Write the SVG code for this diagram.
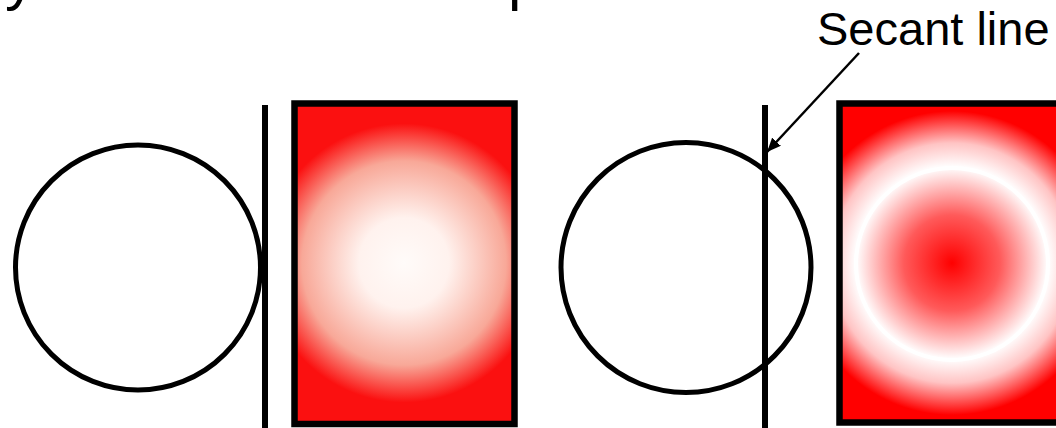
<svg xmlns="http://www.w3.org/2000/svg" width="1056" height="428" viewBox="0 0 1056 428">
  <style>
    .outline { fill: none; stroke: #000; stroke-width: 5; }
    .bar { stroke: #000; stroke-width: 6; }
    .frame { stroke: #000; stroke-width: 6.5; }
    .label { font-family: "Liberation Sans", Arial, sans-serif; font-size: 47px; fill: #000; }
    .title { font-family: "Liberation Sans", Arial, sans-serif; font-size: 60px; fill: #000; }
    .arrow { stroke: #000; stroke-width: 2.5; fill: none; }
  </style>
  <defs>
    <radialGradient id="gWhiteCenter" gradientUnits="userSpaceOnUse" cx="404" cy="263" r="150">
      <stop offset="0" stop-color="#fffbf9"/>
      <stop offset="0.3" stop-color="#fff2ee"/>
      <stop offset="0.68" stop-color="#f8a898"/>
      <stop offset="0.93" stop-color="#fb1010"/>
      <stop offset="1" stop-color="#fb1010"/>
    </radialGradient>
    <radialGradient id="gRedCenter" gradientUnits="userSpaceOnUse" cx="952" cy="263" r="160">
      <stop offset="0" stop-color="#ff0000"/>
      <stop offset="0.3" stop-color="#ff5a5a"/>
      <stop offset="0.6" stop-color="#ffffff"/>
      <stop offset="0.75" stop-color="#ffc4c4"/>
      <stop offset="0.95" stop-color="#ff0000"/>
      <stop offset="1" stop-color="#ff0000"/>
    </radialGradient>
    <marker id="head" markerUnits="userSpaceOnUse" markerWidth="16" markerHeight="12" refX="14" refY="6" orient="auto">
      <path d="M0,0 L14,6 L0,12 z" fill="#000"/>
    </marker>
  </defs>

  <g id="title-fragment">
    <text class="title" x="5" y="-1">y</text>
    <text class="title" x="508" y="-1">p</text>
  </g>

  <g id="left-circle">
    <circle class="outline" cx="138" cy="267.5" r="122.5"/>
  </g>
  <g id="left-line">
    <line class="bar" x1="265" y1="105" x2="265" y2="430"/>
  </g>
  <g id="left-rect">
    <rect class="frame" x="294.5" y="103.5" width="220" height="320.5" fill="url(#gWhiteCenter)"/>
  </g>

  <g id="right-circle">
    <circle class="outline" cx="686" cy="267.5" r="125"/>
  </g>
  <g id="secant-line">
    <line class="bar" x1="765" y1="105" x2="765" y2="430"/>
  </g>
  <g id="right-rect">
    <rect class="frame" x="839.5" y="103.5" width="220" height="319" fill="url(#gRedCenter)"/>
    <circle cx="952" cy="264" r="96" fill="none" stroke="#ffffff" stroke-width="4"/>
  </g>

  <g id="label-secant">
    <text class="label" x="817" y="45">Secant line</text>
  </g>

  <g id="connectors">
    <line class="arrow" x1="859" y1="53" x2="767" y2="152" marker-end="url(#head)"/>
  </g>
</svg>
